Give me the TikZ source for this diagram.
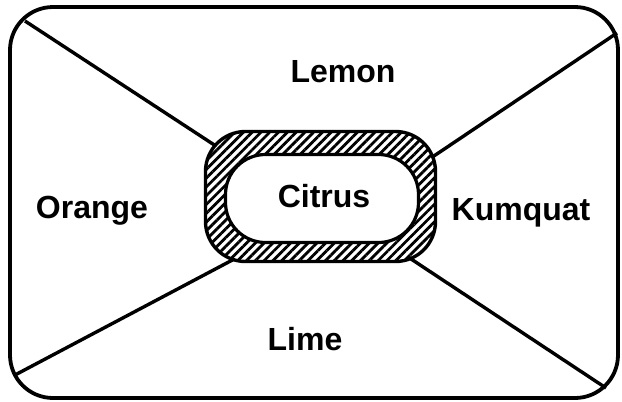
\documentclass[tikz,border=0pt]{standalone}
\usepackage{fontspec}
\setmainfont{Liberation Sans}
\usetikzlibrary{patterns.meta}
\tikzset{
  frame/.style={draw=black, line width=3.8pt, rounded corners=43pt},
  spoke/.style={draw=black, line width=3.4pt},
  ring/.style={rectangle, draw=black, line width=3.4pt, rounded corners=40pt, minimum width=230pt, minimum height=130pt, preaction={fill=white}, pattern={Lines[angle=45, distance=6.2pt, line width=2.8pt]}},
  core/.style={rectangle, draw=black, line width=3.2pt, fill=white, rounded corners=40pt, minimum width=193pt, minimum height=88pt},
  fruit/.style={anchor=base, inner sep=0pt, font=\fontsize{32}{38}\selectfont\bfseries}
}

\begin{document}
\begin{tikzpicture}[x=1pt, y=-1pt]
    \useasboundingbox (0,0) rectangle (622,402);

    % outer frame
    \draw[frame] (10,7) rectangle (618,398);

    % spoke ends: corners of the frame and inside the ring
    \coordinate (cnw) at (25,21);
    \coordinate (cne) at (617,33);
    \coordinate (csw) at (15,375);
    \coordinate (cse) at (606,388);
    \coordinate (enw) at (222,150);
    \coordinate (ene) at (425,162);
    \coordinate (esw) at (240,256);
    \coordinate (ese) at (405,255);

    \draw[spoke] (cnw) -- (enw);
    \draw[spoke] (cne) -- (ene);
    \draw[spoke] (csw) -- (esw);
    \draw[spoke] (cse) -- (ese);

    % hatched ring with the centre
    \node[ring] (ring) at (320.5,196.5) {};
    \node[core] (core) at (322,198.5) {};

    % labels
    \node[fruit] (citrus) at (324,207) {Citrus};
    \node[fruit] (lemon) at (343,82) {Lemon};
    \node[fruit] (orange) at (92,218) {Orange};
    \node[fruit] (kumquat) at (521,220) {Kumquat};
    \node[fruit] (lime) at (305,350) {Lime};
\end{tikzpicture}
\end{document}
